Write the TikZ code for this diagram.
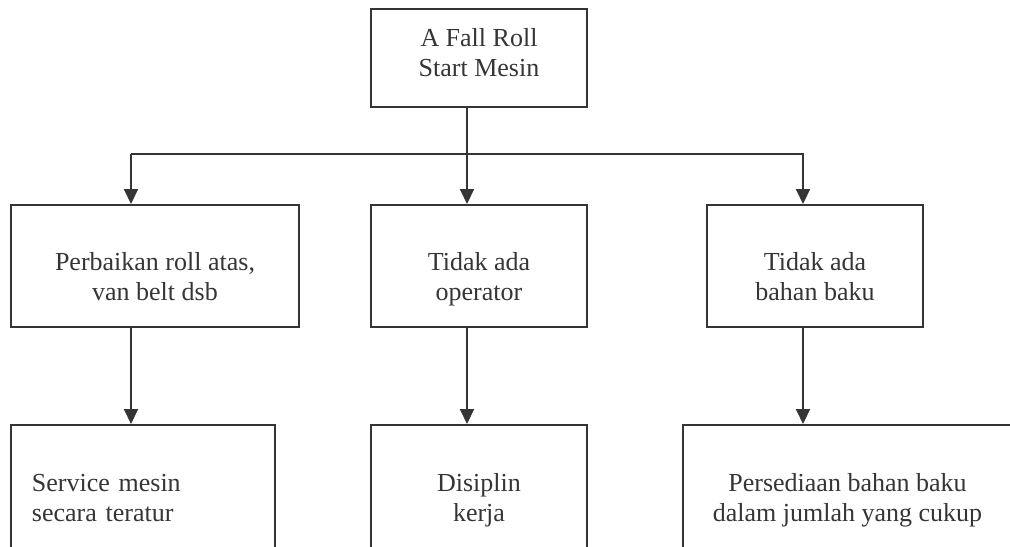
\documentclass[tikz,border=0pt]{standalone}
\usepackage{fontspec}
\setmainfont{Liberation Serif}
\usetikzlibrary{arrows.meta}
\definecolor{ink}{HTML}{353535}

\begin{document}
\begin{tikzpicture}[x=0.5pt, y=-0.5pt,
    box/.style={draw=ink, line width=1pt, rectangle, align=center, text=ink,
      font=\fontsize{13}{15.25}\selectfont, inner sep=0pt},
    toprow/.style={box, minimum height=49pt, text height=22pt, text depth=3.5pt},
    midrow/.style={box, minimum height=61pt, text height=40.5pt, text depth=6pt},
    lowrow/.style={box, minimum height=93pt, text height=10pt, text depth=6.5pt},
    flow/.style={draw=ink, line width=1pt, -{Triangle[width=7pt,length=7.5pt]}}]
        \useasboundingbox (0,0) rectangle (1010,546);
        \node[toprow, minimum width=108pt] (start) at (479,58) {A Fall Roll\\Start Mesin};
        \node[midrow, minimum width=144pt] (repair) at (155,266) {Perbaikan roll atas,\\van belt dsb};
        \node[midrow, minimum width=108pt] (operator) at (479,266) {Tidak ada\\operator};
        \node[midrow, minimum width=108pt] (material) at (815,266) {Tidak ada\\bahan baku};
        \node[lowrow, minimum width=132pt, text width=111pt, align=left, inner xsep=10.5pt,
          text depth=37pt] (service) at (143,518) {Service mesin\\secara teratur};
        \node[lowrow, minimum width=108pt] (discipline) at (479,518) {Disiplin\\kerja};
        \node[lowrow, minimum width=164.5pt] (stock) at (847.5,518) {Persediaan bahan baku\\dalam jumlah yang cukup};
        \coordinate (bus) at ([xshift=-12pt, yshift=25pt]repair.north);
        \coordinate (down) at ([xshift=-6pt]material.south);
        \draw[flow] ([xshift=-6pt]start.south) -- ([xshift=-6pt]operator.north);
        \draw[flow] (bus) -- ([xshift=-12pt]repair.north);
        \draw[flow] (bus) -| ([xshift=-6pt]material.north);
        \draw[flow] ([xshift=-12pt]repair.south) -- ([xshift=-6pt]service.north);
        \draw[flow] ([xshift=-6pt]operator.south) -- ([xshift=-6pt]discipline.north);
        \draw[flow] (down) -- (down |- stock.north);
      \end{tikzpicture}
\end{document}
